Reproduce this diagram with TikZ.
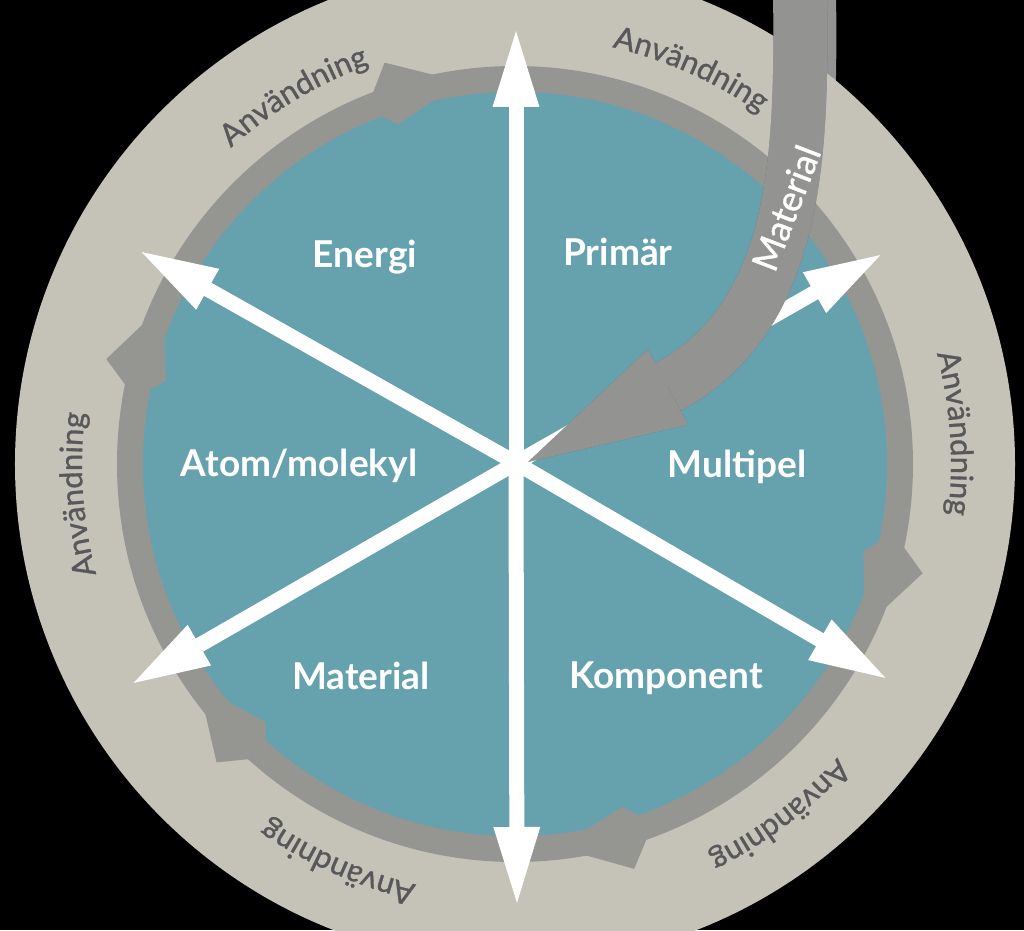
\documentclass[tikz,border=0pt]{standalone}
\usepackage{fontspec}
\setmainfont{Lato}
\newfontfamily\ringfam[FakeBold=1]{Lato}
\usetikzlibrary{arrows.meta,calc,decorations.text}
\definecolor{beige}{HTML}{C5C3B7}
\definecolor{ringgray}{HTML}{959592}
\definecolor{discteal}{HTML}{66A1AE}
\definecolor{bandgray}{HTML}{939391}
\definecolor{textgray}{HTML}{58585A}
\newcommand\ringfont{\ringfam\fontsize{31}{32}\selectfont}
\tikzset {
  >=Stealth,
  every node/.style={font=\bfseries\fontsize{37}{40}\selectfont},
  sector/.style={anchor=base,text=white},
  spoke/.style={white,line width=15pt,-{Triangle[length=80pt,width=42pt]}},
  band/.style={line width=54pt},
}

\begin{document}
\begin{tikzpicture}[x=1pt,y=1pt]
  \fill[black] (-515,-466) rectangle (509,464);
  \useasboundingbox (-515,-466) rectangle (509,464);
  \coordinate (c) at (0,0);
  \coordinate (hub) at (1,1);
  % material band
  \coordinate (m0) at (285,474);
  \coordinate (m1) at (287,314);
  \coordinate (m2) at (285,148);
  \coordinate (m3) at (153,77);
  \coordinate (mtip) at (13,2);
  \draw[gray!85,band] ($(m0)+(9,0)$) .. controls ($(m1)+(9,0)$) and ($(m2)+(9,0)$) .. ($(m3)+(9,0)$);
  % discs
  \fill[beige] (c) circle[radius=500];
  \fill[ringgray] (c) circle[radius=398];
  \fill[discteal] (c) circle[radius=372];
  \foreach \a in {108,165.6,225,286.4,345}
    \fill[ringgray] ({\a+3}:397) -- (\a:422) -- ({\a-10}:386) -- ({\a+1}:359) -- ({\a+3}:373) -- cycle;
  % spokes
  \coordinate (tipn) at (1,437);
  \coordinate (tips) at (2,-443);
  \coordinate (tipnw) at (-377,214);
  \coordinate (tipsw) at (-385,-221);
  \coordinate (tipse) at (374,-216);
  \coordinate (tipne) at (369,211);
  \foreach \t in {n,s,nw,sw,se,ne}
    \draw[spoke] (hub) -- (tip\t);
  \node (energi) at (-150,197)[sector]{Energi};
  \node (primar) at (103,199)[sector]{Primär};
  \node (atom) at (-216,-12)[sector]{Atom/molekyl};
  \node (multipel) at (222,-13)[sector]{Multipel};
  \node (material) at (-154,-225)[sector]{Material};
  \node (komponent) at (151,-224)[sector]{Komponent};
  % shadow and band
  \begin{scope}[shift={(5,-5)}]
    \draw[black,opacity=.25,band] (m0) .. controls (m1) and (m2) .. (m3);
    \fill[black,opacity=.25] (mtip) -- ($(m3)!42.75pt!90:(mtip)$) -- ($(m3)!42.75pt!-90:(mtip)$) -- cycle;
  \end{scope}
  \draw[bandgray,band] (m0) .. controls (m1) and (m2) .. (m3);
  \fill[bandgray] (mtip) -- ($(m3)!42.75pt!90:(mtip)$) -- ($(m3)!42.75pt!-90:(mtip)$) -- cycle;
  \node (bandlabel) at (271,256)[rotate=69,text=white,font=\ringfam\fontsize{36}{38}\selectfont]{Material};
  % ring labels
  \foreach \a/\r in {121/425,66/428,4/436,-53/436,246/432,184/433}
    \path[decorate,decoration={text along path,text align=center,text color=textgray,
      text={|\ringfont|Användning}}] ({\a+30}:\r) arc[start angle=\a+30,end angle=\a-30,radius=\r];
\end{tikzpicture}
\end{document}
